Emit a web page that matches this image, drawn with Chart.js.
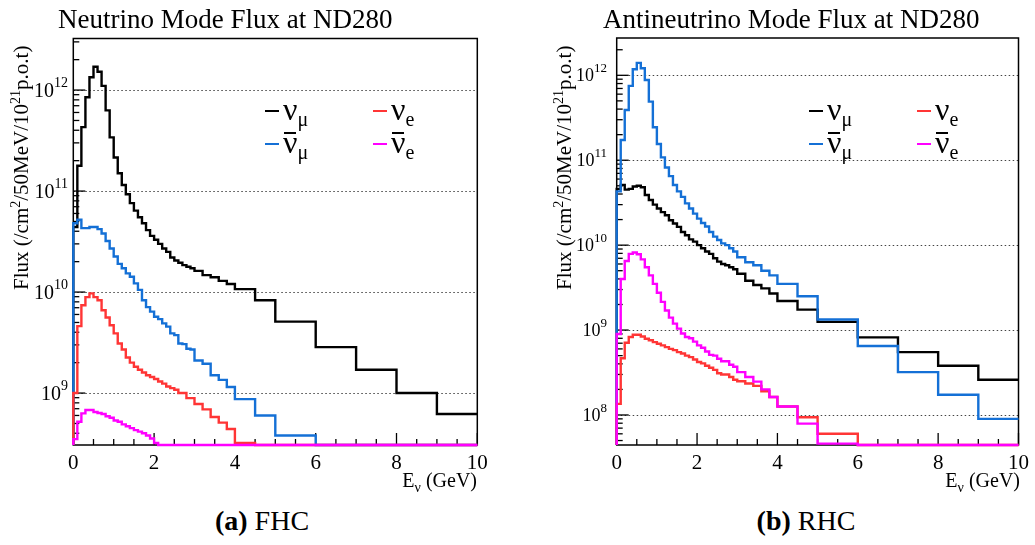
<!DOCTYPE html>
<html>
<head>
<meta charset="utf-8">
<script src="https://cdn.jsdelivr.net/npm/chart.js@4.4.1/dist/chart.umd.min.js"></script>
<style>
  body { margin: 0; background: #fff; }
  #page { position: relative; width: 1035px; height: 545px; overflow: hidden;
          font-family: 'Liberation Serif', 'Times New Roman', serif; color: #000; }
  canvas { position: absolute; top: 0; }
  .title { position: absolute; top: 1px; font-size: 27px; line-height: 36px; white-space: nowrap; }
  .caption { position: absolute; top: 503px; width: 220px; text-align: center;
             font-size: 28px; line-height: 36px; white-space: nowrap; }
  .caption b { font-weight: bold; }
  .ytitle { position: absolute; top: 290px; font-size: 21px; line-height: 24px; white-space: nowrap;
            transform-origin: 0 0; transform: rotate(-90deg); }
  .ytitle sup { font-size: 14px; vertical-align: baseline; position: relative; top: -8px; }
  .xtitle { position: absolute; top: 468px; font-size: 20px; line-height: 24px; white-space: nowrap; }
  .xtitle sub { font-size: 14px; vertical-align: baseline; position: relative; top: 5px; }
  .leg { position: absolute; font-size: 32px; line-height: 32px; white-space: nowrap; }
  .leg .ln { display: inline-block; width: 14px; height: 2px; vertical-align: baseline;
             position: relative; top: -8px; margin-right: 4px; }
  .leg sub { font-size: 20px; vertical-align: baseline; position: relative; top: 6px; }
  .leg .bar { position: relative; }
  .leg .bar::after { content: ''; position: absolute; left: 1px; right: 1px; top: 8px;
                     border-top: 2px solid #000; }
</style>
</head>
<body>
<div id="page">
  <canvas id="fhc" width="517" height="500" style="left:0"></canvas>
  <canvas id="rhc" width="518" height="500" style="left:517px"></canvas>

  <div class="title" style="left:58px">Neutrino Mode Flux at ND280</div>
  <div class="title" style="left:603px">Antineutrino Mode Flux at ND280</div>

  <div class="ytitle" style="left:9px">Flux (/cm<sup>2</sup>/50MeV/10<sup>21</sup>p.o.t)</div>
  <div class="ytitle" style="left:552px">Flux (/cm<sup>2</sup>/50MeV/10<sup>21</sup>p.o.t)</div>

  <div class="xtitle" style="right:558px">E<sub>ν</sub> (GeV)</div>
  <div class="xtitle" style="right:15px">E<sub>ν</sub> (GeV)</div>

  <div class="leg" style="left:265px; top:93px"><span class="ln" style="background:#000"></span>ν<sub>μ</sub></div>
  <div class="leg" style="left:373px; top:93px"><span class="ln" style="background:#ff3535"></span>ν<sub>e</sub></div>
  <div class="leg" style="left:265px; top:126px"><span class="ln" style="background:#1470d6"></span><span class="bar">ν</span><sub>μ</sub></div>
  <div class="leg" style="left:373px; top:126px"><span class="ln" style="background:#ff00ff"></span><span class="bar">ν</span><sub>e</sub></div>

  <div class="leg" style="left:809px; top:93px"><span class="ln" style="background:#000"></span>ν<sub>μ</sub></div>
  <div class="leg" style="left:917px; top:93px"><span class="ln" style="background:#ff3535"></span>ν<sub>e</sub></div>
  <div class="leg" style="left:809px; top:126px"><span class="ln" style="background:#1470d6"></span><span class="bar">ν</span><sub>μ</sub></div>
  <div class="leg" style="left:917px; top:126px"><span class="ln" style="background:#ff00ff"></span><span class="bar">ν</span><sub>e</sub></div>

  <div class="caption" style="left:152px"><b>(a)</b> FHC</div>
  <div class="caption" style="left:696px"><b>(b)</b> RHC</div>
</div>

<script>
// bin edges in GeV (variable width binning)
const binEdges = [0, 0.1, 0.2, 0.3, 0.4, 0.5, 0.6, 0.7, 0.8, 0.9,
  1.0, 1.1, 1.2, 1.3, 1.4, 1.5, 1.6, 1.7, 1.8, 1.9,
  2.0, 2.1, 2.2, 2.3, 2.4, 2.5, 2.6, 2.7, 2.8, 2.9,
  3.0, 3.2, 3.4, 3.6, 3.8, 4.0, 4.5, 5, 6, 7, 8, 9, 10];

// FHC (neutrino mode) flux, one value per bin, 0 = empty bin
const fhcNumu = [4.4e10, 1.78e11, 4.3e11, 8.5e11, 1.34e12, 1.7e12, 1.52e12, 1.1e12, 6.3e11, 3.4e11,
  2.15e11, 1.5e11, 1.15e11, 9.3e10, 7.6e10, 6.4e10, 5.5e10, 4.8e10, 4.1e10, 3.6e10,
  3.3e10, 3.0e10, 2.7e10, 2.5e10, 2.2e10, 2.05e10, 1.95e10, 1.85e10, 1.78e10, 1.72e10,
  1.62e10, 1.47e10, 1.4e10, 1.29e10, 1.2e10, 1.07e10, 8.3e9, 5.1e9, 2.85e9, 1.7e9, 1.0e9, 6.2e8];
const fhcNumubar = [4.8e10, 5.2e10, 4.3e10, 4.3e10, 4.4e10, 4.4e10, 4.2e10, 3.8e10, 3.2e10, 2.7e10,
  2.25e10, 1.9e10, 1.72e10, 1.53e10, 1.42e10, 1.22e10, 1.05e10, 8.3e9, 7.1e9, 6.4e9,
  5.7e9, 5.4e9, 4.9e9, 4.55e9, 3.9e9, 3.75e9, 3.1e9, 3.05e9, 2.75e9, 2.7e9,
  2.1e9, 1.95e9, 1.5e9, 1.35e9, 1.15e9, 8.7e8, 6.0e8, 3.8e8, 0, 0, 0, 0];
const fhcNue = [1.0e9, 4.6e9, 7.4e9, 8.9e9, 9.7e9, 8.9e9, 8.3e9, 6.6e9, 5.6e9, 4.7e9,
  3.9e9, 3.1e9, 2.7e9, 2.25e9, 2.0e9, 1.82e9, 1.7e9, 1.6e9, 1.5e9, 1.44e9,
  1.38e9, 1.3e9, 1.24e9, 1.16e9, 1.12e9, 1.08e9, 1.0e9, 1.0e9, 8.9e8, 8.9e8,
  7.8e8, 6.9e8, 5.8e8, 5.1e8, 4.4e8, 3.2e8, 0, 0, 0, 0, 0, 0];
const fhcNuebar = [3.5e8, 5.2e8, 6.3e8, 6.8e8, 6.8e8, 6.5e8, 6.35e8, 6.2e8, 5.9e8, 5.7e8,
  5.35e8, 5.2e8, 4.9e8, 4.7e8, 4.5e8, 4.3e8, 4.15e8, 4.0e8, 3.8e8, 3.55e8,
  3.2e8, 0, 0, 0, 0, 0, 0, 0, 0, 0,
  0, 0, 0, 0, 0, 0, 0, 0, 0, 0, 0, 0];

// RHC (antineutrino mode) flux
const rhcNumu = [4.6e10, 5.1e10, 4.5e10, 4.6e10, 4.9e10, 5.0e10, 4.8e10, 3.9e10, 3.4e10, 3.0e10,
  2.7e10, 2.45e10, 2.25e10, 1.96e10, 1.8e10, 1.64e10, 1.43e10, 1.31e10, 1.17e10, 1.1e10,
  1.0e10, 9.2e9, 8.4e9, 7.9e9, 7.0e9, 6.4e9, 6.0e9, 5.8e9, 5.5e9, 5.2e9,
  4.6e9, 3.8e9, 3.4e9, 3.1e9, 2.7e9, 2.2e9, 1.74e9, 1.25e9, 8.2e8, 5.5e8, 3.8e8, 2.6e8];
const rhcNumubar = [4.3e10, 1.73e11, 3.9e11, 7.5e11, 1.18e12, 1.4e12, 1.21e12, 8.8e11, 4.9e11, 2.45e11,
  1.55e11, 1.08e11, 8.2e10, 6.5e10, 5.1e10, 4.3e10, 3.7e10, 3.1e10, 2.7e10, 2.35e10,
  2.05e10, 1.82e10, 1.66e10, 1.43e10, 1.26e10, 1.15e10, 1.05e10, 1.0e10, 9.2e9, 8.4e9,
  7.2e9, 6.3e9, 5.8e9, 5.0e9, 4.4e9, 3.5e9, 2.5e9, 1.33e9, 6.5e8, 3.2e8, 1.73e8, 9.0e7];
const rhcNue = [1.35e8, 4.65e8, 7.1e8, 8.3e8, 8.8e8, 8.8e8, 8.4e8, 7.9e8, 7.6e8, 7.2e8,
  6.9e8, 6.6e8, 6.3e8, 6.0e8, 5.8e8, 5.5e8, 5.3e8, 5.0e8, 4.8e8, 4.5e8,
  4.2e8, 4.05e8, 3.8e8, 3.6e8, 3.4e8, 3.1e8, 3.0e8, 3.0e8, 2.8e8, 2.6e8,
  2.5e8, 2.35e8, 2.2e8, 1.9e8, 1.63e8, 1.26e8, 9.4e7, 6.0e7, 0, 0, 0, 0];
const rhcNuebar = [9.0e8, 4.0e9, 6.5e9, 7.9e9, 8.2e9, 7.8e9, 6.8e9, 5.5e9, 4.4e9, 3.5e9,
  2.75e9, 2.15e9, 1.7e9, 1.4e9, 1.19e9, 1.04e9, 9.1e8, 8.3e8, 8.0e8, 7.3e8,
  6.6e8, 6.2e8, 5.6e8, 5.1e8, 5.0e8, 4.6e8, 4.3e8, 4.3e8, 3.9e8, 3.7e8,
  3.2e8, 2.8e8, 2.47e8, 2.0e8, 1.63e8, 1.26e8, 7.9e7, 4.6e7, 0, 0, 0, 0];

// axis ranges
const xRange = [0, 10];
const fhcYRange = [3.06e8, 3.24e12];
const rhcYRange = [4.43e7, 2.75e12];

const colors = { numu: '#000000', numubar: '#1470d6', nue: '#ff3535', nuebar: '#ff00ff' };

// histogram -> points for a stepped line, empty bins sit on the axis floor like ROOT does
function steps(values, floor) {
  const pts = [{ x: binEdges[0], y: floor }];
  values.forEach((v, i) => pts.push({ x: binEdges[i], y: Math.max(v, floor) }));
  pts.push({ x: binEdges[binEdges.length - 1], y: Math.max(values[values.length - 1], floor) });
  return pts;
}

// frame, inward ticks, dotted decade grid and 10^n labels
const rootAxes = {
  id: 'rootAxes',
  beforeDatasetsDraw(chart, args, opts) {
    const { ctx, chartArea: a } = chart;
    const xs = chart.scales.x, ys = chart.scales.y;
    const lo = Math.log10(ys.min), hi = Math.log10(ys.max);
    ctx.save();

    ctx.strokeStyle = '#444';
    ctx.lineWidth = 1;
    ctx.setLineDash([1.5, 2.5]);
    for (let e = Math.ceil(lo); e <= Math.floor(hi); e++) {
      const y = Math.round(ys.getPixelForValue(10 ** e)) + 0.5;
      ctx.beginPath(); ctx.moveTo(a.left, y); ctx.lineTo(a.right, y); ctx.stroke();
    }
    ctx.setLineDash([]);

    ctx.strokeStyle = '#000';
    ctx.lineWidth = 1.3;
    for (let e = Math.floor(lo); e <= Math.ceil(hi); e++) {
      for (let m = 1; m <= 9; m++) {
        const v = m * 10 ** e;
        if (v < ys.min || v > ys.max) continue;
        const y = ys.getPixelForValue(v);
        ctx.beginPath(); ctx.moveTo(a.left, y); ctx.lineTo(a.left + (m === 1 ? 12 : 6), y); ctx.stroke();
      }
    }
    for (let t = xRange[0]; t <= xRange[1]; t += 0.5) {
      const x = xs.getPixelForValue(t);
      ctx.beginPath(); ctx.moveTo(x, a.bottom); ctx.lineTo(x, a.bottom - (t % 2 === 0 ? 12 : 6)); ctx.stroke();
    }

    ctx.lineWidth = 1.5;
    ctx.strokeRect(a.left, a.top, a.right - a.left, a.bottom - a.top);

    ctx.fillStyle = '#000';
    ctx.textBaseline = 'alphabetic';
    for (let e = Math.ceil(lo); e <= Math.floor(hi); e++) {
      const y = ys.getPixelForValue(10 ** e);
      ctx.font = opts.expSize + 'px "Liberation Serif"';
      const ew = ctx.measureText(String(e)).width;
      ctx.fillText(String(e), opts.labelRight - ew, y - 3);
      ctx.font = opts.baseSize + 'px "Liberation Serif"';
      const bw = ctx.measureText('10').width;
      ctx.fillText('10', opts.labelRight - ew - bw, y + opts.baseSize * 0.34);
    }
    ctx.restore();
  }
};

function makeChart(id, series, yRange, geom) {
  const floor = yRange[0];
  const names = ['numu', 'numubar', 'nue', 'nuebar'];
  return new Chart(document.getElementById(id), {
    type: 'line',
    data: {
      datasets: series.map((vals, i) => ({
        label: names[i],
        data: steps(vals, floor),
        borderColor: colors[names[i]],
        borderWidth: 2.4,
        pointRadius: 0,
        stepped: 'before',
        fill: false,
        clip: false,
        order: 4 - i
      }))
    },
    options: {
      responsive: false,
      animation: false,
      devicePixelRatio: 1,
      layout: { padding: { top: geom.top, right: geom.right, left: 0, bottom: 0 } },
      plugins: {
        legend: { display: false },
        tooltip: { enabled: false },
        rootAxes: { labelRight: geom.labelRight, baseSize: geom.baseSize, expSize: geom.expSize }
      },
      scales: {
        x: {
          type: 'linear', min: xRange[0], max: xRange[1],
          grid: { display: false, drawTicks: false }, border: { display: false },
          ticks: { stepSize: 2, padding: 6, color: '#000', maxRotation: 0,
                   font: { family: 'Liberation Serif', size: 21 } },
          afterFit: s => { s.height = geom.xHeight; }
        },
        y: {
          type: 'logarithmic', min: yRange[0], max: yRange[1],
          grid: { display: false, drawTicks: false }, border: { display: false },
          ticks: { display: false },
          afterFit: s => { s.width = geom.yWidth; }
        }
      }
    },
    plugins: [rootAxes]
  });
}

makeChart('fhc', [fhcNumu, fhcNumubar, fhcNue, fhcNuebar], fhcYRange,
  { top: 38.5, right: 39.7, yWidth: 73.3, xHeight: 55, labelRight: 68, baseSize: 20, expSize: 14 });
makeChart('rhc', [rhcNumu, rhcNumubar, rhcNue, rhcNuebar], rhcYRange,
  { top: 38, right: 15.3, yWidth: 99.7, xHeight: 55, labelRight: 90, baseSize: 18, expSize: 13 });
</script>
</body>
</html>
